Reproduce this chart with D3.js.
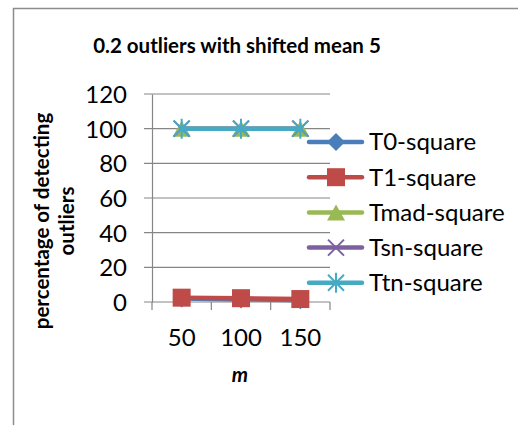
<!DOCTYPE html>
<html>
<head>
<meta charset="utf-8">
<script src="https://cdn.jsdelivr.net/npm/d3@7"></script>
<style>
  body { margin: 0; background: #fff; }
  text { font-family: Lato, "Open Sans", sans-serif; fill: #000; }
</style>
</head>
<body>
<div id="chart"></div>
<script>
// chart data
var categories = ["50", "100", "150"];
var seriesNames = ["T0-square", "T1-square", "Tmad-square", "Tsn-square", "Ttn-square"];
var t0Values = [2, 1.5, 1];
var t1Values = [2.5, 2.2, 1.7];
var tmadValues = [100, 100, 100];
var tsnValues = [100, 100, 100];
var ttnValues = [100, 100, 100];
var yTicks = [0, 20, 40, 60, 80, 100, 120];
var colors = ["#4a7ebb", "#be4b48", "#98b954", "#7d60a0", "#46aac5"];
var symbols = ["diamond", "square", "triangle", "x", "star"];

var series = seriesNames.map(function(name, i) {
    return {name: name, values: [t0Values, t1Values, tmadValues, tsnValues, ttnValues][i], color: colors[i], symbol: symbols[i]};
});

var width = 518, height = 425;
var margin = {top: 94, left: 152, right: 188, bottom: 123};

var svg = d3.select("#chart").append("svg")
    .attr("width", width)
    .attr("height", height);

// outer chart border
svg.append("rect")
    .attr("x", 13.5).attr("y", 8.5)
    .attr("width", 520).attr("height", 430)
    .attr("fill", "none")
    .attr("stroke", "#8c8c8c")
    .attr("stroke-width", 1.5);

var x = d3.scaleBand()
    .domain(categories)
    .range([margin.left, width - margin.right]);

var y = d3.scaleLinear()
    .domain([0, 120])
    .range([height - margin.bottom, margin.top]);

// gridlines
svg.append("g")
    .selectAll("line")
    .data(yTicks).enter()
    .append("line")
    .attr("x1", margin.left - 8)
    .attr("x2", width - margin.right)
    .attr("y1", function(d) { return y(d); })
    .attr("y2", function(d) { return y(d); })
    .attr("stroke", "#868686")
    .attr("stroke-width", 1.2);

// y axis
var yAxis = d3.axisLeft(y).tickValues(yTicks).tickSize(0).tickPadding(25);
var yg = svg.append("g")
    .attr("transform", "translate(" + margin.left + ",0)")
    .call(yAxis);
yg.select(".domain").attr("stroke", "#868686").attr("stroke-width", 1.2);
yg.selectAll("text")
    .attr("dy", "0.36em")
    .style("font-size", "24px").style("font-family", "Lato, sans-serif");

// x axis
var xAxis = d3.axisBottom(x).tickSize(0);
var xg = svg.append("g")
    .attr("transform", "translate(0," + y(0) + ")")
    .call(xAxis);
xg.select(".domain").remove();
xg.selectAll("text")
    .attr("y", 44).attr("dy", 0)
    .style("font-size", "24px").style("font-family", "Lato, sans-serif");

// category separators
var bounds = categories.map(function(c) { return x(c); }).concat([x(categories[2]) + x.bandwidth()]);
svg.append("g")
    .selectAll("line")
    .data(bounds).enter()
    .append("line")
    .attr("x1", function(d) { return d; })
    .attr("x2", function(d) { return d; })
    .attr("y1", y(0))
    .attr("y2", y(0) + 8)
    .attr("stroke", "#868686")
    .attr("stroke-width", 1.2);

function cx(i) { return x(categories[i]) + x.bandwidth() / 2; }

function drawMarker(g, sym, color, px, py) {
    if (sym === "diamond") {
        g.append("path").attr("d", "M0,-9L9,0L0,9L-9,0Z")
            .attr("transform", "translate(" + px + "," + py + ")").attr("fill", color);
    } else if (sym === "square") {
        g.append("rect").attr("x", px - 9).attr("y", py - 9).attr("width", 18).attr("height", 18)
            .attr("fill", color);
    } else if (sym === "triangle") {
        g.append("path").attr("d", "M0,-8L9,8L-9,8Z")
            .attr("transform", "translate(" + px + "," + py + ")").attr("fill", color);
    } else if (sym === "x") {
        g.append("path").attr("d", "M-8,-8L8,8M-8,8L8,-8")
            .attr("transform", "translate(" + px + "," + py + ")")
            .attr("stroke", color).attr("stroke-width", 2).attr("fill", "none");
    } else if (sym === "star") {
        g.append("path").attr("d", "M-8,-8L8,8M-8,8L8,-8M0,-10L0,10")
            .attr("transform", "translate(" + px + "," + py + ")")
            .attr("stroke", color).attr("stroke-width", 2).attr("fill", "none");
    }
}

var line = d3.line()
    .x(function(d, i) { return cx(i); })
    .y(function(d) { return y(d); });

series.forEach(function(s) {
    var g = svg.append("g");
    g.append("path")
        .datum(s.values)
        .attr("d", line)
        .attr("fill", "none")
        .attr("stroke", s.color)
        .attr("stroke-width", 4.5)
        .attr("stroke-linecap", "round");
    s.values.forEach(function(v, i) {
        drawMarker(g, s.symbol, s.color, cx(i), y(v));
    });
});

// legend
var legend = svg.append("g");
series.forEach(function(s, i) {
    var ly = 142 + i * 35.2;
    var lg = legend.append("g");
    lg.append("line")
        .attr("x1", 309).attr("x2", 362)
        .attr("y1", ly).attr("y2", ly)
        .attr("stroke", s.color).attr("stroke-width", 4.5)
        .attr("stroke-linecap", "round");
    drawMarker(lg, s.symbol, s.color, 336, ly);
    lg.append("text")
        .attr("x", 369).attr("y", ly)
        .attr("dy", ".35em")
        .style("font-size", "24px")
        .text(s.name);
});

// title
svg.append("text")
    .attr("x", 237).attr("y", 53)
    .attr("text-anchor", "middle")
    .style("font-size", "20.5px")
    .style("font-weight", "bold")
    .text("0.2 outliers with shifted mean 5");

// y axis title
var yt = svg.append("text")
    .attr("transform", "translate(49,221) rotate(-90)")
    .attr("text-anchor", "middle")
    .style("font-size", "20.5px")
    .style("font-weight", "bold");
yt.append("tspan").attr("x", 0).attr("dy", 0).text("percentage of detecting");
yt.append("tspan").attr("x", 0).attr("dy", 25).text("outliers");

// x axis title
svg.append("text")
    .attr("x", 240).attr("y", 382)
    .attr("text-anchor", "middle")
    .style("font-size", "20.5px")
    .style("font-weight", "bold")
    .style("font-style", "italic")
    .text("m");
</script>
</body>
</html>
